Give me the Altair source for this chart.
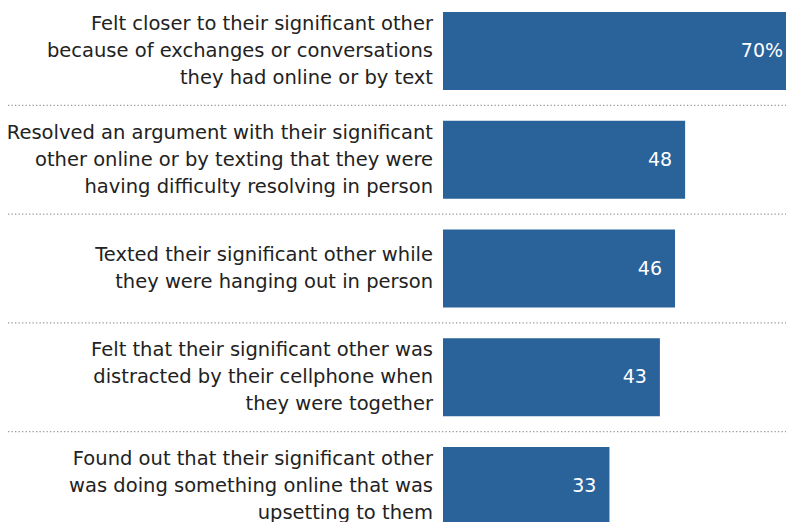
import altair as alt
import pandas as pd

categories = [
    "Felt closer to their significant other|because of exchanges or conversations|they had online or by text",
    "Resolved an argument with their significant|other online or by texting that they were|having difficulty resolving in person",
    "Texted their significant other while|they were hanging out in person",
    "Felt that their significant other was|distracted by their cellphone when|they were together",
    "Found out that their significant other|was doing something online that was|upsetting to them",
]
values = [70, 48, 46, 43, 33]
value_labels = ["70%", "48", "46", "43", "33"]
has_separator = [True, True, True, True, False]
line_counts = [3, 3, 2, 3, 3]

df = pd.DataFrame({"cat": categories, "value": values, "label": value_labels,
                   "sep": has_separator, "lines": line_counts})

FONT = "DejaVu Sans"
BAR = "#2a629a"
LH = 27

yscale = alt.Scale(domain=categories, range=[-11.4, 532.4], paddingInner=0.283, paddingOuter=0.1415)
xscale = alt.Scale(domain=[0, 68], nice=False, zero=True)

base = alt.Chart(df)
Y = alt.Y("cat:N", scale=yscale, axis=None, sort=None)

rules = base.transform_filter("datum.sep").mark_rule(
    color="#9a9a9a", strokeDash=[1.3, 2.2], strokeWidth=1.3, yOffset=15.4
).encode(
    y=alt.Y("cat:N", scale=yscale, axis=None, bandPosition=1, sort=None),
    x=alt.value(-435),
    x2=alt.value(343),
)

bars = base.mark_bar(color=BAR, clip=True).encode(
    y=Y,
    x=alt.X("value:Q", scale=xscale, axis=None),
)

def cat_layer(n):
    return base.transform_filter(f"datum.lines == {n}").mark_text(
        align="right", baseline="middle", lineBreak="|", lineHeight=LH,
        font=FONT, fontSize=19.5, color="#222222", dy=-(n - 1) * LH / 2
    ).encode(
        y=Y,
        x=alt.value(-10),
        text="cat:N",
    )

val_text = base.mark_text(
    align="right", baseline="middle", dx=-13, font=FONT, fontSize=19, color="white"
).encode(
    y=Y,
    x=alt.X("value:Q", scale=xscale, axis=None),
    text="label:N",
)

chart = alt.layer(rules, bars, cat_layer(3), cat_layer(2), val_text).properties(
    width=343, height=514,
    padding={"left": 435, "top": 0, "right": 0, "bottom": 0},
    autosize="none",
).configure_view(stroke=None)

chart.save("out.html", embed_options={"renderer": "svg", "actions": False})
